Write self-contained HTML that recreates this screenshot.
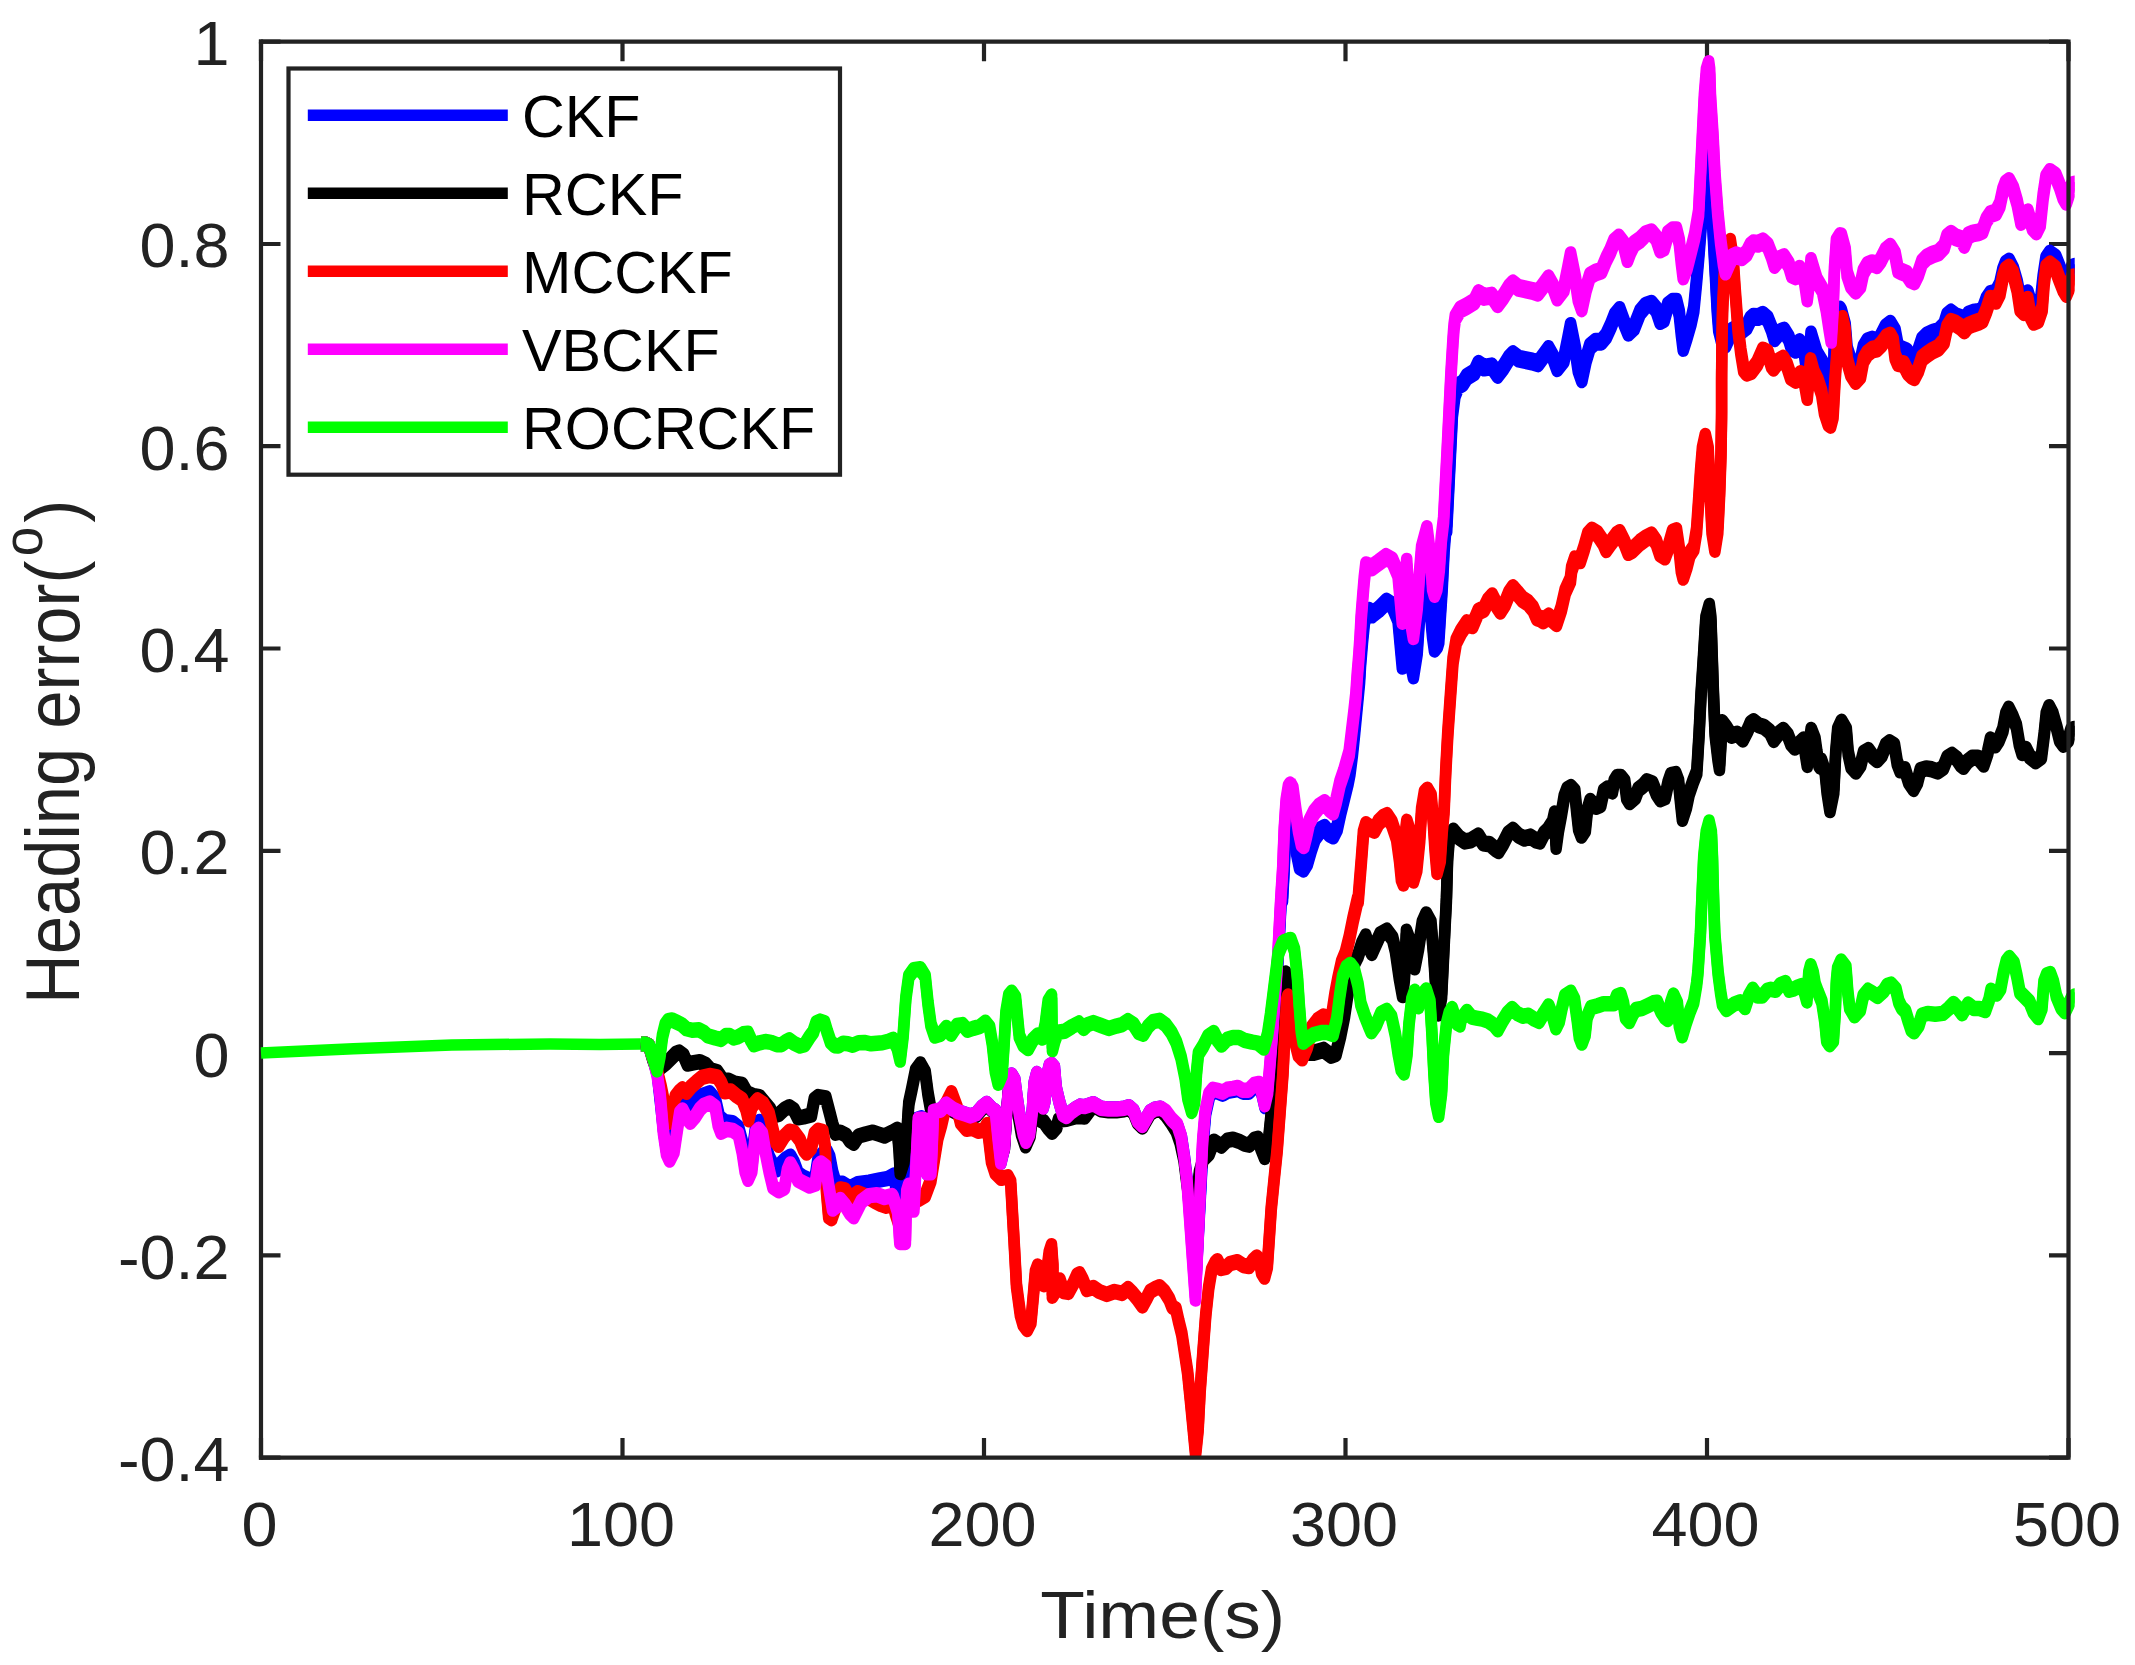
<!DOCTYPE html>
<html><head><meta charset="utf-8"><title>Heading error</title>
<style>
html,body{margin:0;padding:0;background:#fff;}
body{width:2135px;height:1665px;overflow:hidden;}
svg{display:block;}
text{font-family:"Liberation Sans",Arial,Helvetica,sans-serif;}
.tk{font-size:63.5px;fill:#222222;}
.lg{font-size:58.6px;fill:#000;}
.lb{font-size:67.2px;fill:#222222;}
.cv{fill:none;stroke-width:11.5;stroke-linejoin:round;stroke-linecap:butt;}
.ax{stroke:#222222;stroke-width:4.2;fill:none;}
</style></head><body>
<svg width="2135" height="1665" viewBox="0 0 2135 1665">
<rect x="0" y="0" width="2135" height="1665" fill="#ffffff"/>
<defs><clipPath id="cp"><rect x="250" y="30" width="1824.7" height="1427.6"/></clipPath></defs>

<line class="ax" x1="261.0" y1="39.6" x2="261.0" y2="1459.6999999999998"/>
<path class="ax" d="M261.0,1457.6 v-19.5 M261.0,41.7 v19.5 M622.5,1457.6 v-19.5 M622.5,41.7 v19.5 M984.0,1457.6 v-19.5 M984.0,41.7 v19.5 M1345.5,1457.6 v-19.5 M1345.5,41.7 v19.5 M1707.0,1457.6 v-19.5 M1707.0,41.7 v19.5 M2068.5,1457.6 v-19.5 M2068.5,41.7 v19.5 M261.0,41.7 h19.5 M2068.5,41.7 h-19.5 M261.0,244.0 h19.5 M2068.5,244.0 h-19.5 M261.0,446.2 h19.5 M2068.5,446.2 h-19.5 M261.0,648.5 h19.5 M2068.5,648.5 h-19.5 M261.0,850.8 h19.5 M2068.5,850.8 h-19.5 M261.0,1053.1 h19.5 M2068.5,1053.1 h-19.5 M261.0,1255.3 h19.5 M2068.5,1255.3 h-19.5 M261.0,1457.6 h19.5 M2068.5,1457.6 h-19.5"/>
<g clip-path="url(#cp)">
<path class="cv" stroke="#00ff00" d="M261.0,1053.0 L353.4,1048.8 L451.7,1044.9 L550.0,1044.0 L600.0,1044.4 L641.0,1043.9"/>
<g class="cv" stroke="#0000ff"><path id="a_blue" d="M641.0,1043.9 L645.2,1044.0 L649.0,1045.7 L652.9,1057.2 L657.5,1074.5 L663.4,1128.4 L666.5,1149.5 L669.6,1155.3 L674.0,1143.7 L676.9,1124.5 L679.8,1107.2 L682.6,1103.4 L687.4,1105.7 L691.3,1103.4 L696.1,1099.5 L701.9,1095.7 L709.6,1092.8 L715.3,1099.5 L719.2,1116.8 L724.9,1121.6 L732.6,1122.6 L738.4,1127.4 L742.2,1141.8 L745.1,1161.0 L748.0,1170.6 L751.8,1161.0 L753.8,1141.8 L756.1,1124.5 L759.5,1121.6 L762.4,1128.4 L765.3,1143.7 L769.1,1157.2 L773.0,1164.9 L776.8,1169.7 L781.6,1162.9 L785.5,1159.1 L790.3,1156.2 L794.1,1162.9 L798.0,1173.5 L803.7,1177.4 L810.5,1180.2 L815.3,1177.4 L818.1,1159.1 L822.9,1153.3 L826.8,1151.4 L829.7,1157.2 L832.6,1172.6 L835.4,1182.2 L842.2,1183.1 L849.9,1187.9 L857.5,1183.7 L869.1,1182.2 L878.7,1180.2 L888.3,1178.3 L894.1,1174.9 L894.4,1175.4 L897.3,1199.5 L900.2,1224.5 L904.0,1209.1 L906.9,1180.2 L908.8,1166.8 L911.1,1147.6 L913.6,1128.4 L916.5,1119.7 L921.3,1117.8 L923.6,1119.3 L925.6,1145.7 L926.9,1172.8 L930.9,1172.8 L932.2,1145.7 L933.5,1111.3 L940.8,1110.0 L946.1,1104.1 L953.0,1109.1 L958.8,1112.0 L964.6,1113.9 L970.3,1115.9 L976.1,1113.9 L981.9,1107.2 L986.7,1103.4 L992.7,1109.7 L995.4,1111.1 L998.1,1138.1 L1000.8,1162.1 L1004.4,1147.1 L1006.7,1111.1 L1009.4,1080.5 L1011.6,1075.0 L1014.8,1080.5 L1017.0,1097.6 L1019.7,1115.6 L1023.3,1133.6 L1026.0,1141.3 L1029.6,1133.6 L1032.3,1111.1 L1034.1,1084.1 L1036.8,1073.6 L1040.0,1080.5 L1041.8,1100.3 L1043.1,1107.1 L1044.9,1100.3 L1047.2,1075.0 L1049.4,1066.0 L1051.7,1064.6 L1054.4,1067.8 L1056.2,1088.6 L1059.4,1102.1 L1063.0,1114.7 L1066.6,1116.5 L1071.1,1112.0 L1075.6,1108.8 L1080.1,1106.1 L1084.6,1106.6 L1093.3,1103.8 L1101.0,1108.2 L1108.7,1109.1 L1116.4,1109.1 L1124.1,1108.2 L1128.9,1106.8 L1133.7,1111.1 L1137.5,1120.7 L1142.3,1125.5 L1146.2,1118.7 L1150.0,1112.0 L1154.8,1109.1 L1160.6,1108.2 L1166.2,1113.3 L1171.9,1121.0 L1177.7,1126.8 L1181.5,1138.3 L1184.4,1157.5 L1187.3,1182.0 L1195.7,1284.4 L1201.1,1182.0 L1203.1,1142.2 L1205.6,1113.3 L1209.4,1096.0 L1213.2,1091.2 L1218.0,1092.2 L1222.8,1094.1 L1227.7,1091.2 L1233.4,1090.3 L1238.2,1089.3 L1243.0,1092.2 L1248.8,1092.2 L1254.6,1086.4 L1259.4,1085.5 L1262.2,1094.1 L1265.1,1106.6 L1268.0,1094.1 L1269.6,1074.9 L1272.8,1036.5 L1276.3,988.4 L1278.6,950.0 L1281.1,901.9 L1282.5,900.0 L1284.2,868.3 L1285.7,829.9 L1287.7,801.0 L1289.6,789.5 L1291.5,795.3" transform="translate(0,-2.0)"/><use href="#a_blue" transform="translate(0,4.0)"/><path id="b_blue" d="M1289.6,789.5 L1291.5,795.3 L1293.8,820.2 L1296.1,849.1 L1299.6,866.4 L1303.4,868.7 L1307.3,862.5 L1311.1,849.1 L1315.0,837.5 L1320.7,829.9 L1324.6,827.9 L1329.4,833.7 L1333.2,835.6 L1337.1,827.9 L1340.9,810.6 L1344.7,795.3 L1348.0,781.8 L1349.9,772.2 L1352.4,753.0 L1354.4,733.8 L1359.6,679.9 L1360.5,664.1 L1362.5,640.1 L1364.4,620.9 L1366.8,612.7 L1369.2,610.8 L1372.1,614.6 L1378.8,609.3 L1386.5,601.7 L1392.3,605.3 L1398.0,618.7 L1402.3,665.8 L1406.7,606.7 L1410.0,658.3 L1413.4,675.4 L1417.2,651.4 L1419.1,622.6 L1421.5,593.8 L1425.9,574.3 L1429.7,603.6 L1432.6,635.3 L1434.5,648.7 L1437.4,644.9 L1438.8,640.1 L1440.3,616.1 L1442.2,587.2 L1444.1,548.8 L1446.1,524.8 L1446.3,520.0 L1446.7,529.1 L1448.6,490.6 L1450.5,452.2 L1452.4,413.8 L1454.9,394.5 L1458.2,385.9 L1463.0,383.0 L1466.8,376.9 L1474.5,372.1 L1478.4,363.8 L1484.1,367.6 L1491.8,366.3 L1497.6,374.9 L1503.4,367.2 L1509.1,358.0 L1513.0,354.2 L1518.7,358.6 L1524.5,359.9 L1532.2,361.5 L1538.0,363.4 L1543.7,355.7 L1548.5,349.0 L1553.3,357.6 L1557.2,368.2 L1563.9,359.6 L1567.8,340.3 L1570.6,325.9 L1575.4,349.9 L1578.3,369.2 L1581.8,379.2 L1586.0,359.6 L1589.9,346.5 L1595.6,341.7 L1601.4,341.7 L1606.2,335.9 L1611.0,325.3 L1614.8,315.7 L1619.6,310.0 L1624.5,323.4 L1628.3,332.7 L1634.1,327.3 L1640.0,312.3 L1645.7,305.6 L1651.5,303.7 L1656.3,309.5 L1660.1,321.0 L1664.0,319.1 L1667.8,305.6 L1672.6,301.8 L1676.5,301.8 L1679.3,313.3 L1681.3,332.5 L1683.2,347.9 L1687.0,336.0 L1690.9,322.5 L1693.8,309.1 L1696.6,280.2 L1699.1,251.4 L1701.4,222.6 L1703.8,193.8 L1705.7,164.9 L1707.6,139.9 L1709.5,164.9 L1711.1,193.8 L1712.6,222.6 L1714.1,251.4 L1715.7,280.2 L1717.2,309.1 L1718.7,328.3 L1721.6,339.8 L1725.5,344.6 L1729.3,336.4 L1732.2,330.6 L1736.0,328.7 L1741.8,330.6 L1746.6,326.8 L1750.5,319.1 L1753.3,316.8 L1758.1,317.1 L1762.9,314.8 L1767.8,319.1 L1771.6,328.7 L1774.5,338.3 L1779.3,332.5 L1784.1,330.6 L1788.9,338.3 L1791.8,347.9 L1795.6,349.8 L1799.5,342.1 L1803.7,347.9 L1807.2,371.9 L1809.5,353.7 L1811.0,334.4 L1813.9,344.1 L1816.8,353.7 L1822.5,363.3 L1826.4,382.5 L1829.3,401.7 L1831.2,413.2 L1833.1,382.5 L1834.4,344.1 L1836.4,315.2 L1840.0,309.5 L1841.3,311.8 L1845.2,326.3 L1847.1,349.5 L1850.9,361.1 L1855.7,366.6 L1860.5,361.4 L1863.4,348.0 L1867.3,341.4 L1872.1,339.6 L1876.9,341.7 L1880.7,337.0 L1885.5,327.5 L1890.3,323.8 L1895.1,331.7 L1898.0,347.1 L1901.9,349.2 L1906.7,351.2 L1910.5,357.1 L1914.4,359.1 L1918.2,351.6 L1922.0,340.1 L1926.8,335.5 L1932.6,332.8 L1938.4,331.0 L1944.1,325.4 L1947.0,315.9 L1950.9,312.5 L1955.7,316.1 L1961.4,318.2 L1964.3,324.1 L1968.2,314.6 L1973.0,312.8 L1978.7,312.0 L1982.6,310.2 L1986.4,299.8 L1990.3,294.1 L1996.0,292.4 L1999.9,284.8 L2002.8,271.4 L2005.7,263.8 L2009.1,261.6 L2013.3,269.8 L2017.2,283.4 L2021.0,302.7 L2027.8,293.3 L2032.6,308.8 L2036.4,312.8 L2040.2,305.2 L2043.1,278.4 L2046.0,259.2 L2049.9,253.6 L2055.6,257.6 L2059.5,267.3 L2063.3,279.0 L2066.2,283.8 L2069.1,275.3 L2072.0,267.7 L2074.8,266.8 L2082.0,266.8" transform="translate(0,-3.25)"/><use href="#b_blue" transform="translate(0,6.5)"/></g>
<g class="cv" stroke="#000000"><path id="a_black" d="M641.0,1043.9 L645.2,1044.0 L649.0,1045.7 L652.9,1059.2 L657.1,1069.9 L661.5,1066.8 L666.3,1063.0 L671.1,1058.2 L675.9,1053.4 L679.2,1052.1 L683.6,1055.3 L687.4,1064.0 L692.3,1063.0 L699.9,1061.7 L705.7,1064.5 L710.5,1069.7 L717.2,1071.7 L723.0,1080.3 L728.8,1080.3 L734.5,1083.2 L742.2,1084.5 L747.0,1092.8 L753.8,1095.7 L759.5,1096.6 L765.3,1103.4 L770.1,1109.1 L773.0,1115.9 L778.7,1114.5 L784.5,1109.1 L789.3,1106.8 L794.1,1110.1 L798.0,1117.8 L803.7,1116.8 L811.4,1114.9 L814.3,1099.5 L818.1,1096.6 L825.8,1098.0 L829.7,1113.0 L832.6,1124.5 L835.4,1133.2 L840.2,1132.2 L846.0,1135.1 L849.9,1140.8 L853.7,1143.3 L858.5,1136.0 L865.2,1134.1 L872.9,1132.2 L878.7,1134.1 L884.5,1136.0 L892.1,1132.2 L897.3,1129.3 L899.2,1151.4 L900.2,1172.6 L904.0,1161.0 L906.9,1132.2 L908.8,1103.4 L911.7,1089.9 L915.6,1070.7 L920.4,1064.0 L925.2,1072.6 L928.0,1093.8 L930.4,1107.2 L933.8,1111.1 L940.8,1111.6 L946.1,1105.6 L953.0,1110.7 L958.8,1113.6 L964.6,1115.5 L970.3,1117.4 L976.1,1115.5 L981.9,1108.7 L986.7,1104.9 L992.7,1110.6 L995.4,1112.4 L997.6,1138.1 L1000.4,1159.7 L1004.4,1148.0 L1006.7,1112.0 L1009.4,1081.4 L1011.6,1075.9 L1014.3,1081.4 L1016.1,1097.6 L1018.4,1115.6 L1021.5,1133.6 L1025.6,1145.8 L1030.1,1135.4 L1032.8,1112.9 L1034.6,1093.1 L1036.8,1084.1 L1039.1,1102.1 L1040.4,1120.1 L1044.0,1121.9 L1047.7,1127.3 L1052.2,1132.3 L1056.6,1127.3 L1058.5,1120.1 L1066.6,1119.2 L1075.6,1116.7 L1080.1,1116.5 L1084.6,1117.0 L1093.3,1105.3 L1101.0,1109.7 L1108.7,1110.7 L1116.4,1110.7 L1124.1,1109.7 L1128.9,1108.4 L1133.7,1112.6 L1137.5,1122.2 L1142.3,1127.0 L1146.2,1120.3 L1150.0,1113.6 L1154.8,1110.7 L1160.6,1109.7 L1165.8,1114.9 L1171.5,1122.9 L1176.3,1130.6 L1180.2,1142.2 L1184.0,1159.5 L1186.9,1182.5 L1190.4,1207.5 L1193.8,1215.2 L1196.5,1199.8 L1199.4,1172.9 L1203.2,1159.5 L1209.0,1153.7 L1213.8,1141.2 L1217.7,1143.7 L1221.5,1146.0 L1227.3,1140.2 L1233.0,1139.3 L1238.8,1141.2 L1244.6,1144.1 L1249.4,1145.1 L1254.2,1139.3 L1258.0,1138.3 L1260.9,1147.9 L1264.7,1157.5 L1267.6,1149.9 L1270.5,1121.0 L1273.4,1092.2 L1275.3,1053.8 L1277.2,1024.9 L1279.5,999.9 L1283.0,984.6 L1285.9,973.0 L1289.7,986.5 L1294.5,1015.3" transform="translate(0,-2.0)"/><use href="#a_black" transform="translate(0,4.0)"/><path id="b_black" d="M1289.7,986.5 L1294.5,1015.3 L1298.4,1040.3 L1302.2,1051.8 L1309.9,1052.8 L1313.8,1052.8 L1323.4,1049.9 L1331.1,1055.7 L1335.9,1053.8 L1340.7,1034.5 L1344.5,1015.3 L1347.4,996.1 L1350.3,980.7 L1354.1,963.4 L1358.0,955.7 L1361.8,944.2 L1365.7,936.5 L1369.5,948.0 L1371.8,952.9 L1375.3,945.2 L1380.1,934.6 L1386.8,930.8 L1392.6,938.4 L1395.4,950.0 L1399.3,976.9 L1402.6,995.1 L1404.5,976.9 L1406.4,931.7 L1408.9,938.4 L1411.4,963.4 L1414.7,967.3 L1418.5,948.0 L1422.3,923.1 L1426.2,914.4 L1431.0,923.1 L1433.9,957.7 L1436.4,996.1 L1438.7,1013.4 L1441.6,996.1 L1443.5,957.7 L1445.4,919.2 L1446.4,900.0 L1447.6,858.7 L1449.5,835.6 L1453.3,830.8 L1459.1,837.5 L1464.9,841.4 L1470.6,840.4 L1478.3,835.6 L1483.1,843.3 L1489.9,844.3 L1495.6,849.1 L1498.5,851.0 L1503.3,843.3 L1508.1,833.7 L1512.9,829.9 L1518.7,835.6 L1524.5,838.5 L1530.2,836.6 L1536.0,840.4 L1540.0,841.4 L1544.0,833.7 L1547.9,829.9 L1552.7,822.2 L1554.6,813.5 L1556.1,846.8 L1558.4,829.9 L1561.3,814.5 L1564.2,797.2 L1567.1,789.5 L1570.9,787.2 L1574.8,791.4 L1576.7,810.6 L1578.6,827.9 L1581.5,835.6 L1585.3,829.9 L1587.3,810.6 L1590.2,801.0 L1595.9,806.8 L1600.7,804.9 L1603.6,791.4 L1607.4,788.5 L1612.3,791.4 L1614.2,781.8 L1617.1,777.0 L1620.9,777.0 L1624.7,781.8 L1626.7,797.2 L1629.6,802.0 L1635.3,797.2 L1638.2,789.5 L1643.0,785.7 L1646.8,781.4 L1652.6,783.7 L1656.5,793.3 L1660.3,799.1 L1665.1,797.2 L1668.0,783.7 L1670.9,775.1 L1675.7,774.1 L1678.6,781.8 L1680.5,801.0 L1682.4,818.7 L1686.3,806.8 L1689.1,793.3 L1693.0,781.8 L1696.8,772.2 L1699.1,733.8 L1701.0,695.3 L1703.5,656.9 L1705.9,618.4 L1709.3,605.9 L1710.9,618.4 L1712.2,656.9 L1713.5,695.3 L1715.1,733.8 L1718.0,758.7 L1719.5,768.0 L1721.0,743.4 L1722.2,722.2 L1726.6,728.0 L1731.4,735.7 L1737.2,733.8 L1742.9,739.5 L1747.8,729.9 L1750.6,723.2 L1753.5,721.3 L1758.3,725.1 L1764.1,727.0 L1769.9,731.8 L1773.7,739.9 L1778.5,733.8 L1783.3,729.9 L1788.1,735.7 L1791.0,743.4 L1794.8,747.6 L1799.6,743.4 L1803.5,739.5 L1805.4,753.0 L1807.3,764.9 L1809.3,743.4 L1811.2,729.9 L1815.0,739.5 L1816.9,753.0 L1818.9,764.5 L1820.0,766.4 L1821.3,760.7 L1825.2,772.2 L1827.1,791.4 L1830.0,810.1 L1833.8,791.4 L1835.7,753.0 L1837.7,729.9 L1841.5,721.8 L1846.3,729.9 L1848.2,753.0 L1851.1,766.4 L1855.9,771.6 L1860.7,764.5 L1863.6,753.0 L1868.4,750.1 L1873.2,756.8 L1877.1,760.1 L1881.9,754.9 L1885.7,745.3 L1889.6,742.4 L1894.4,745.3 L1897.2,762.6 L1900.1,770.3 L1904.9,769.3 L1908.8,781.8 L1913.6,788.9 L1917.4,781.8 L1920.3,770.3 L1926.1,768.4 L1931.8,769.3 L1937.6,771.4 L1943.4,767.4 L1947.2,757.8 L1952.0,754.9 L1956.8,758.7 L1960.7,764.5 L1963.5,766.8 L1967.4,761.6 L1972.2,757.8 L1978.0,757.8 L1983.7,764.5 L1987.6,753.0 L1990.5,739.5 L1995.3,745.3 L1999.1,739.5 L2002.9,729.9 L2005.8,714.5 L2008.7,708.8 L2012.6,716.5 L2016.4,726.1 L2019.3,743.4 L2022.2,753.0 L2026.0,749.1 L2029.9,756.8 L2035.6,761.2 L2041.4,756.8 L2044.3,733.8 L2046.2,714.5 L2049.1,707.2 L2052.9,714.5 L2056.8,728.0 L2059.6,739.5 L2063.5,744.7 L2068.3,739.5 L2071.2,729.9 L2074.1,729.0 L2082.0,729.0" transform="translate(0,-2.5)"/><use href="#b_black" transform="translate(0,5.0)"/></g>
<g class="cv" stroke="#ff0000"><path id="a_red" d="M641.0,1043.9 L645.2,1044.0 L649.0,1045.7 L652.9,1057.2 L657.5,1072.6 L661.1,1087.2 L664.4,1103.4 L667.3,1114.9 L669.8,1122.0 L672.3,1113.0 L675.3,1096.8 L679.2,1091.8 L682.3,1089.0 L686.5,1092.2 L691.3,1086.5 L696.1,1082.2 L701.9,1077.4 L709.6,1075.5 L717.2,1076.8 L721.1,1082.6 L724.9,1091.8 L730.7,1090.9 L736.5,1095.7 L742.2,1099.5 L746.1,1109.1 L748.6,1119.7 L751.8,1106.3 L757.6,1099.9 L763.4,1103.8 L769.1,1113.9 L773.0,1130.3 L775.9,1141.8 L778.7,1145.3 L784.5,1136.0 L789.3,1131.2 L794.1,1132.2 L799.9,1139.9 L803.7,1149.5 L806.6,1153.0 L811.4,1147.6 L814.3,1134.1 L818.1,1130.3 L822.9,1131.6 L825.3,1147.6 L826.4,1189.9 L828.7,1216.8 L831.6,1218.7 L836.0,1206.2 L840.2,1188.9 L845.1,1189.9 L849.9,1198.5 L857.5,1192.7 L865.2,1195.6 L874.8,1201.4 L880.6,1204.3 L886.4,1206.2 L893.1,1203.7 L895.4,1212.9 L899.2,1224.5 L903.1,1212.9 L908.8,1203.3 L918.4,1199.5 L925.2,1195.6 L930.9,1180.2 L937.7,1138.0 L941.5,1124.5 L946.3,1103.4 L951.5,1092.8 L956.9,1107.2 L960.7,1122.6 L966.5,1129.3 L972.3,1128.4 L978.0,1131.2 L983.8,1130.3 L987.2,1124.5 L989.2,1141.8 L991.5,1161.0 L995.3,1172.6 L1001.1,1178.3 L1007.8,1176.8 L1010.7,1182.2 L1012.2,1209.1 L1014.0,1239.8 L1016.5,1285.7 L1020.4,1314.5 L1023.2,1324.1 L1027.1,1329.5 L1030.9,1322.2 L1033.4,1295.3 L1035.4,1272.3 L1037.7,1266.1 L1040.5,1279.9 L1043.8,1284.7 L1046.3,1276.1 L1049.2,1253.0 L1051.5,1245.7 L1053.0,1266.5 L1052.3,1296.3 L1055.9,1290.5 L1059.8,1279.9 L1063.6,1291.5 L1068.4,1292.4 L1073.2,1283.8 L1077.1,1275.1 L1079.6,1273.8 L1082.8,1279.9 L1086.7,1289.6 L1093.4,1287.6 L1099.2,1291.5 L1106.8,1294.4 L1114.5,1291.5 L1122.2,1293.4 L1128.0,1288.6 L1132.8,1293.4 L1137.6,1299.2 L1142.4,1305.9 L1147.2,1297.2 L1150.1,1291.5 L1154.9,1288.6 L1159.7,1286.7 L1164.5,1291.5 L1169.3,1299.2 L1172.2,1306.8 L1176.0,1309.2 L1178.9,1322.2 L1181.8,1333.8 L1184.7,1353.0 L1187.6,1372.2 L1190.5,1401.0 L1193.3,1429.9 L1195.6,1453.9 L1198.1,1429.9 L1200.1,1391.4 L1202.9,1353.0 L1205.8,1314.5 L1208.7,1287.6 L1211.6,1270.3 L1215.4,1262.6 L1217.4,1260.7 L1221.2,1268.4 L1226.0,1267.4 L1229.9,1263.6 L1237.5,1261.7 L1243.3,1265.5 L1249.1,1266.5 L1252.9,1260.7 L1256.8,1256.9 L1259.6,1260.7 L1261.6,1272.3 L1264.5,1277.1 L1267.3,1266.5 L1269.3,1237.7 L1271.2,1208.8 L1274.1,1180.0 L1277.2,1149.9 L1280.1,1111.4 L1283.0,1073.0 L1284.9,1034.5 L1286.8,999.9 L1288.0,996.1 L1290.7,1015.3" transform="translate(0,-2.0)"/><use href="#a_red" transform="translate(0,4.0)"/><path id="b_red" d="M1288.0,996.1 L1290.7,1015.3 L1294.5,1038.4 L1298.4,1053.8 L1302.2,1057.6 L1307.0,1046.1 L1311.8,1028.8 L1317.6,1021.1 L1323.4,1017.2 L1329.1,1020.1 L1332.0,1015.3 L1334.9,996.1 L1337.8,980.7 L1341.6,963.4 L1345.5,953.8 L1349.3,938.4 L1353.2,919.2 L1357.6,900.0 L1358.2,900.0 L1359.2,887.5 L1361.5,858.7 L1363.4,833.7 L1365.9,825.1 L1370.7,828.3 L1374.5,829.9 L1378.4,822.6 L1383.2,817.7 L1387.0,816.0 L1391.8,823.1 L1396.6,837.5 L1399.5,858.7 L1401.4,877.9 L1403.4,882.7 L1405.3,858.7 L1405.9,829.9 L1406.8,822.6 L1409.1,829.9 L1411.4,849.1 L1413.4,879.8 L1416.8,868.3 L1419.7,839.5 L1421.6,810.6 L1424.5,793.3 L1427.4,790.5 L1431.2,797.2 L1433.2,820.2 L1435.1,849.1 L1437.0,871.2 L1440.3,858.7 L1442.2,829.9 L1444.1,810.6 L1445.7,772.2 L1447.8,733.8 L1450.5,695.3 L1453.0,660.7 L1456.2,641.5 L1461.0,631.9 L1466.8,623.2 L1472.6,625.2 L1478.3,611.7 L1484.1,608.8 L1487.9,601.1 L1492.2,596.3 L1496.6,605.0 L1500.4,610.8 L1505.2,603.1 L1509.1,593.5 L1512.9,588.1 L1517.7,593.5 L1522.5,599.2 L1528.3,603.1 L1533.1,608.8 L1536.9,617.5 L1540.0,618.4 L1543.1,620.4 L1548.8,616.5 L1556.5,623.2 L1561.3,608.8 L1565.2,591.5 L1570.4,580.0 L1571.6,569.4 L1574.9,559.4 L1580.2,560.2 L1584.1,548.3 L1587.9,534.8 L1591.8,530.6 L1597.5,533.9 L1603.3,542.5 L1606.2,549.3 L1611.0,542.5 L1616.8,534.8 L1619.6,532.9 L1624.5,542.5 L1628.3,552.1 L1632.1,550.2 L1640.0,542.5 L1645.7,538.3 L1651.5,535.4 L1656.3,542.2 L1660.1,553.7 L1664.9,556.6 L1668.8,546.0 L1672.6,532.6 L1676.5,531.0 L1679.3,549.9 L1681.3,569.1 L1683.2,576.8 L1687.0,565.2 L1689.9,553.7 L1693.8,547.9 L1696.6,530.6 L1698.6,501.8 L1700.5,473.0 L1702.4,449.9 L1705.3,436.8 L1708.2,449.9 L1710.1,492.2 L1712.0,530.6 L1714.9,548.9 L1717.8,530.6 L1719.7,492.2 L1721.0,453.8 L1721.6,415.3 L1721.6,376.9 L1722.0,338.4 L1722.6,309.6 L1724.5,270.6 L1727.4,251.4 L1730.3,241.8 L1733.2,261.0 L1735.1,289.8 L1738.0,328.3 L1740.8,351.3 L1743.7,369.2 L1746.6,372.7 L1751.4,371.1 L1757.2,363.4 L1762.9,350.4 L1767.8,352.9 L1771.6,365.3 L1773.5,367.7 L1778.3,361.5 L1783.1,358.6 L1787.0,365.3 L1790.8,376.9 L1795.6,379.8 L1800.4,374.0 L1804.3,380.7 L1807.2,397.1 L1809.1,376.9 L1810.6,361.1 L1813.9,373.0 L1817.7,380.7 L1821.6,392.3 L1824.5,411.5 L1828.3,423.0 L1830.6,424.9 L1833.1,415.3 L1835.0,380.7 L1836.9,353.8 L1838.9,334.6 L1840.0,327.5 L1842.3,318.9 L1845.2,331.4 L1847.1,360.2 L1850.9,373.7 L1855.7,381.0 L1860.5,375.6 L1863.4,360.2 L1867.3,353.5 L1872.1,349.7 L1876.9,348.7 L1881.7,343.9 L1886.5,337.2 L1890.3,335.6 L1893.2,341.0 L1895.1,356.4 L1898.0,363.1 L1903.8,364.1 L1907.6,371.8 L1911.5,375.6 L1914.4,377.2 L1918.2,369.9 L1922.0,358.3 L1926.8,354.5 L1932.6,350.6 L1938.4,347.8 L1944.1,341.0 L1947.0,327.6 L1950.9,321.8 L1955.7,323.7 L1961.4,327.6 L1964.3,330.5 L1968.2,325.7 L1973.0,323.7 L1978.7,321.8 L1982.6,319.9 L1986.4,310.3 L1990.3,298.7 L1996.0,300.7 L1999.9,293.0 L2002.8,277.6 L2005.7,269.9 L2009.1,267.6 L2013.3,273.8 L2017.2,289.1 L2020.1,308.4 L2023.9,312.2 L2027.8,299.7 L2030.6,316.0 L2033.5,321.8 L2038.3,319.9 L2042.2,308.4 L2044.1,283.4 L2046.0,268.0 L2049.9,264.5 L2055.6,269.0 L2059.5,279.5 L2063.3,289.1 L2066.2,293.9 L2069.1,287.2 L2072.0,277.6 L2074.8,277.2 L2082.0,277.2" transform="translate(0,-3.25)"/><use href="#b_red" transform="translate(0,6.5)"/></g>
<g class="cv" stroke="#ff00ff"><path id="a_magenta" d="M641.0,1043.9 L645.2,1044.0 L649.0,1045.7 L652.9,1057.2 L657.1,1074.5 L660.0,1093.8 L663.4,1132.2 L666.5,1153.3 L669.6,1160.1 L674.0,1151.4 L676.9,1132.2 L679.8,1113.0 L682.6,1110.1 L686.5,1117.8 L690.3,1122.2 L695.1,1116.8 L699.9,1109.1 L703.8,1105.3 L709.6,1103.0 L715.3,1107.2 L718.2,1124.5 L721.1,1132.2 L726.8,1129.3 L732.6,1130.3 L738.4,1134.1 L742.2,1151.4 L745.1,1170.6 L748.0,1179.3 L751.8,1170.6 L753.8,1151.4 L755.7,1132.2 L758.6,1129.3 L762.4,1134.1 L765.3,1151.4 L769.1,1170.6 L773.0,1187.0 L778.7,1190.8 L784.5,1187.9 L787.4,1170.6 L790.3,1163.9 L794.1,1170.6 L798.0,1180.2 L803.7,1183.1 L809.5,1186.0 L815.3,1184.1 L818.1,1165.8 L821.0,1162.9 L825.8,1166.8 L828.7,1186.0 L832.6,1209.1 L836.4,1206.2 L840.2,1199.5 L845.1,1205.2 L849.9,1212.9 L853.7,1216.8 L857.5,1209.1 L861.4,1201.4 L869.1,1195.6 L876.8,1194.7 L884.5,1197.5 L892.1,1195.6 L893.2,1197.2 L897.8,1211.7 L899.8,1242.4 L905.4,1242.4 L906.7,1191.9 L908.7,1185.3 L911.0,1210.0 L913.9,1210.0 L916.3,1158.9 L918.3,1119.3 L923.6,1119.3 L925.6,1145.7 L926.9,1172.8 L930.9,1172.8 L932.2,1145.7 L933.5,1111.3 L940.8,1110.0 L946.1,1104.1 L953.0,1109.1 L958.8,1112.0 L964.6,1113.9 L970.3,1115.9 L976.1,1113.9 L981.9,1107.2 L986.7,1103.4 L992.7,1109.7 L995.4,1111.1 L998.1,1138.1 L1000.8,1162.1 L1004.4,1147.1 L1006.7,1111.1 L1009.4,1080.5 L1011.6,1075.0 L1014.8,1080.5 L1017.0,1097.6 L1019.7,1115.6 L1023.3,1133.6 L1026.0,1141.3 L1029.6,1133.6 L1032.3,1111.1 L1034.1,1084.1 L1036.8,1073.6 L1040.0,1080.5 L1041.8,1100.3 L1043.1,1107.1 L1044.9,1100.3 L1047.2,1075.0 L1049.4,1066.0 L1051.7,1064.6 L1054.4,1067.8 L1056.2,1088.6 L1059.4,1102.1 L1063.0,1114.7 L1066.6,1116.5 L1071.1,1112.0 L1075.6,1108.8 L1080.1,1106.1 L1084.6,1106.6 L1093.3,1103.8 L1101.0,1108.2 L1108.7,1109.1 L1116.4,1109.1 L1124.1,1108.2 L1128.9,1106.8 L1133.7,1111.1 L1137.5,1120.7 L1142.3,1125.5 L1146.2,1118.7 L1150.0,1112.0 L1154.8,1109.1 L1160.6,1108.2 L1165.8,1111.4 L1171.5,1119.1 L1177.3,1124.9 L1181.1,1136.4 L1184.0,1155.6 L1186.9,1180.0 L1195.4,1299.0 L1200.7,1180.0 L1202.7,1140.2 L1205.2,1111.4 L1209.0,1094.1 L1212.9,1089.3 L1217.7,1090.3 L1222.5,1092.2 L1227.3,1089.3 L1233.0,1088.4 L1237.8,1087.4 L1242.6,1090.3 L1248.4,1090.3 L1254.2,1084.5 L1259.0,1083.5 L1261.9,1092.2 L1264.7,1104.7 L1267.6,1092.2 L1269.2,1073.0 L1272.4,1034.5 L1275.9,986.5 L1278.2,948.0 L1280.7,900.0 L1282.7,868.3 L1284.2,829.9 L1286.1,801.0 L1288.4,786.6 L1290.0,784.1 L1292.9,789.5" transform="translate(0,-2.0)"/><use href="#a_magenta" transform="translate(0,4.0)"/><path id="b_magenta" d="M1290.0,784.1 L1292.9,789.5 L1295.7,810.6 L1298.6,829.9 L1301.5,843.3 L1303.8,845.2 L1306.3,835.6 L1309.2,822.2 L1314.0,812.6 L1318.8,806.8 L1324.6,802.9 L1329.4,808.7 L1333.2,811.6 L1336.1,801.0 L1339.9,783.7 L1343.8,772.2 L1349.2,753.0 L1351.5,733.8 L1353.8,714.5 L1355.9,695.3 L1357.2,676.1 L1358.8,656.9 L1360.1,637.7 L1361.1,618.4 L1362.6,599.2 L1364.2,580.0 L1365.9,565.2 L1371.7,567.5 L1378.4,562.7 L1386.1,556.9 L1392.3,560.4 L1398.0,573.9 L1402.3,620.9 L1406.7,561.7 L1410.0,616.1 L1413.4,636.2 L1417.2,606.5 L1419.2,577.6 L1421.6,548.8 L1426.9,529.1 L1430.7,558.4 L1432.6,587.3 L1434.5,594.0 L1436.9,587.3 L1439.3,568.0 L1441.3,539.2 L1443.6,519.9 L1445.1,490.6 L1447.1,452.2 L1449.0,413.8 L1450.9,375.3 L1453.0,340.7 L1454.0,327.3 L1455.3,317.7 L1460.1,309.6 L1466.8,306.1 L1474.5,301.3 L1478.4,293.1 L1484.1,296.9 L1491.8,295.6 L1497.6,304.2 L1503.4,296.5 L1509.1,287.3 L1513.0,283.4 L1518.7,287.9 L1524.5,289.2 L1532.2,290.8 L1538.0,292.7 L1543.7,285.0 L1548.5,278.3 L1553.3,286.9 L1557.2,297.5 L1563.9,288.8 L1567.8,269.6 L1570.6,255.2 L1575.4,279.2 L1578.3,298.4 L1581.8,308.4 L1586.0,288.8 L1589.9,275.8 L1595.6,272.5 L1601.5,270.6 L1606.3,259.1 L1610.2,251.4 L1614.0,241.8 L1618.8,237.6 L1623.6,243.7 L1627.4,259.1 L1630.3,251.4 L1634.2,243.7 L1639.9,239.9 L1645.7,234.1 L1651.5,232.2 L1656.3,238.0 L1660.1,249.5 L1664.0,247.6 L1667.8,234.1 L1672.6,230.3 L1676.5,230.3 L1679.3,241.8 L1681.3,261.0 L1683.2,276.4 L1687.0,266.8 L1690.9,251.4 L1694.7,236.0 L1698.6,213.0 L1700.5,174.5 L1702.4,136.1 L1704.3,97.7 L1706.4,71.5 L1708.7,64.0 L1709.7,71.5 L1710.5,97.7 L1713.0,136.1 L1714.9,174.5 L1717.8,213.0 L1720.7,241.8 L1723.5,262.9 L1725.5,271.6 L1729.3,262.9 L1732.2,257.2 L1736.0,255.3 L1741.8,257.2 L1746.6,253.3 L1750.5,245.7 L1753.3,243.3 L1758.1,243.7 L1762.9,241.4 L1767.8,245.7 L1771.6,255.3 L1774.5,264.9 L1779.3,259.1 L1784.1,257.2 L1788.9,264.9 L1791.8,274.5 L1795.6,276.4 L1799.5,268.7 L1803.7,274.5 L1807.2,298.5 L1809.5,280.2 L1811.0,261.0 L1813.9,270.6 L1816.8,280.2 L1822.5,289.9 L1826.4,309.1 L1829.3,328.3 L1831.2,339.8 L1833.1,309.1 L1834.4,270.6 L1836.4,241.8 L1840.0,236.0 L1841.3,236.3 L1845.2,250.7 L1847.1,273.8 L1850.9,285.3 L1855.7,290.7 L1860.5,285.3 L1863.4,271.8 L1867.3,265.1 L1872.1,263.2 L1876.9,265.1 L1880.7,260.3 L1885.5,250.7 L1890.3,246.8 L1895.1,254.5 L1898.0,269.9 L1901.9,271.8 L1906.7,273.8 L1910.5,279.5 L1914.4,281.4 L1918.2,273.8 L1922.0,262.2 L1926.8,257.4 L1932.6,254.5 L1938.4,252.6 L1944.1,246.8 L1947.0,237.2 L1950.9,233.8 L1955.7,237.2 L1961.4,239.2 L1964.3,244.9 L1968.2,235.3 L1973.0,233.4 L1978.7,232.4 L1982.6,230.5 L1986.4,219.9 L1990.3,214.2 L1996.0,212.3 L1999.9,204.6 L2002.8,191.1 L2005.7,183.4 L2009.1,181.1 L2013.3,189.2 L2017.2,202.6 L2021.0,221.9 L2027.8,212.3 L2032.6,227.6 L2036.4,231.5 L2040.2,223.8 L2043.1,196.9 L2046.0,177.7 L2049.9,171.9 L2055.6,175.7 L2059.5,185.3 L2063.3,196.9 L2066.2,201.7 L2069.1,193.0 L2072.0,185.3 L2074.8,184.4 L2082.0,184.4" transform="translate(0,-3.25)"/><use href="#b_magenta" transform="translate(0,6.5)"/></g>
<g class="cv" stroke="#00ff00"><path id="a_green" d="M641.0,1043.9 L645.2,1044.0 L649.0,1045.7 L652.9,1057.2 L657.1,1069.9 L660.0,1055.3 L662.5,1036.1 L665.3,1024.6 L668.2,1020.7 L672.1,1020.0 L676.9,1022.3 L681.7,1024.6 L686.5,1028.8 L692.3,1030.3 L699.0,1029.8 L703.8,1032.3 L707.6,1035.7 L715.3,1038.0 L721.1,1039.4 L725.9,1035.5 L729.7,1035.5 L733.6,1038.0 L738.4,1036.7 L743.2,1033.8 L748.0,1033.2 L750.9,1039.9 L753.8,1044.7 L759.5,1042.8 L765.3,1041.5 L771.1,1042.4 L776.8,1044.7 L781.6,1044.7 L785.5,1041.9 L789.3,1039.9 L794.1,1043.4 L799.9,1046.1 L804.7,1044.7 L809.5,1037.1 L813.3,1031.9 L816.2,1023.0 L820.1,1021.1 L824.5,1022.6 L827.4,1032.3 L830.6,1041.9 L834.5,1045.7 L838.3,1046.1 L843.1,1043.2 L847.9,1043.8 L852.7,1045.3 L858.5,1042.8 L864.3,1042.4 L871.0,1043.8 L876.8,1043.2 L882.5,1042.8 L888.3,1041.3 L893.1,1039.4 L893.5,1039.9 L897.3,1047.6 L900.2,1060.1 L903.1,1036.1 L905.9,997.7 L908.8,976.5 L913.6,969.8 L920.4,968.8 L925.2,976.5 L928.0,1003.4 L930.9,1024.6 L934.8,1036.1 L940.5,1034.2 L946.3,1027.4 L951.1,1034.2 L956.9,1025.5 L962.6,1024.6 L967.4,1030.3 L973.2,1028.4 L979.9,1026.5 L985.3,1022.3 L989.6,1027.4 L992.4,1043.8 L995.3,1070.7 L998.2,1083.2 L1002.0,1074.5 L1004.0,1045.7 L1005.9,1013.0 L1008.8,995.7 L1011.7,992.3 L1015.5,997.7 L1017.4,1016.9 L1019.3,1036.1 L1023.2,1044.7 L1028.0,1048.6 L1032.8,1039.9 L1037.6,1035.1 L1042.4,1038.0 L1045.3,1024.6 L1048.2,1001.5 L1051.6,996.1 L1052.4,1049.6 L1054.9,1039.9 L1057.8,1032.3 L1064.5,1031.3 L1072.2,1026.5 L1078.9,1023.0 L1083.7,1028.4 L1087.6,1024.6 L1093.3,1022.6 L1101.0,1025.5 L1108.7,1028.4 L1116.4,1026.1 L1122.2,1024.6 L1127.9,1020.7 L1133.7,1024.6 L1138.5,1032.3 L1143.3,1034.2 L1148.1,1026.5 L1152.9,1021.7 L1159.6,1020.3 L1160.0,1020.7 L1165.8,1024.9 L1171.5,1032.6 L1176.3,1042.2 L1181.1,1057.6 L1185.0,1076.8 L1187.9,1098.0 L1191.7,1111.4 L1194.6,1101.8 L1196.5,1073.0 L1198.4,1053.8 L1203.2,1046.1 L1208.0,1036.5 L1213.8,1032.6 L1217.7,1040.3 L1221.5,1045.1 L1227.3,1039.3 L1233.0,1037.4 L1238.8,1037.4 L1244.6,1040.3 L1252.3,1042.2 L1258.0,1043.2 L1263.8,1048.0 L1267.6,1034.5 L1270.5,1015.3 L1273.4,992.3 L1275.3,976.9 L1278.2,953.8 L1283.0,942.3 L1290.7,939.4" transform="translate(0,-2.0)"/><use href="#a_green" transform="translate(0,4.0)"/><path id="b_green" d="M1283.0,942.3 L1290.7,939.4 L1294.5,950.0 L1297.4,976.9 L1299.3,1005.7 L1301.3,1030.7 L1303.2,1042.2 L1308.0,1038.4 L1313.8,1034.5 L1321.4,1032.6 L1327.2,1032.6 L1333.0,1034.5 L1336.8,1019.2 L1339.7,996.1 L1342.6,976.9 L1346.4,967.3 L1350.3,964.4 L1354.1,969.2 L1358.0,984.6 L1360.8,1003.8 L1364.7,1015.3 L1368.5,1024.9 L1371.4,1031.7 L1376.2,1024.9 L1381.0,1013.4 L1386.8,1010.5 L1391.6,1017.2 L1395.4,1034.5 L1398.3,1053.8 L1401.2,1069.1 L1404.1,1073.0 L1407.0,1053.8 L1408.9,1024.9 L1411.8,999.9 L1414.7,991.3 L1418.5,1006.7 L1421.4,996.1 L1426.2,989.9 L1430.0,1001.9 L1432.0,1034.5 L1433.9,1073.0 L1435.8,1101.8 L1438.7,1115.3 L1441.6,1092.2 L1443.5,1053.8 L1446.4,1024.9 L1449.3,1013.4 L1452.1,1008.6 L1456.9,1023.0 L1460.0,1024.9 L1461.1,1019.1 L1466.9,1011.4 L1471.7,1017.2 L1476.5,1018.1 L1482.3,1019.1 L1488.0,1021.0 L1493.8,1024.9 L1497.7,1029.7 L1502.5,1021.0 L1507.3,1013.3 L1512.1,1008.5 L1516.9,1013.3 L1522.6,1016.2 L1528.4,1015.3 L1534.2,1019.1 L1539.0,1021.4 L1543.8,1013.3 L1548.6,1006.0 L1552.4,1015.3 L1555.9,1027.8 L1559.2,1021.0 L1562.0,1007.6 L1564.9,996.0 L1570.7,992.2 L1574.5,999.9 L1577.4,1021.0 L1579.3,1036.4 L1581.8,1043.1 L1585.1,1034.5 L1587.0,1017.2 L1590.9,1007.6 L1597.6,1005.7 L1603.4,1003.7 L1609.1,1003.7 L1613.9,1003.7 L1616.8,996.0 L1620.7,994.5 L1623.5,1003.7 L1625.5,1017.2 L1629.3,1021.6 L1633.2,1013.3 L1636.0,1009.5 L1641.8,1008.5 L1647.6,1005.7 L1653.3,1002.8 L1657.2,1002.2 L1661.0,1011.4 L1664.9,1017.2 L1667.8,1019.5 L1670.6,1003.7 L1673.5,995.1 L1677.4,1003.7 L1679.3,1024.9 L1682.2,1035.8 L1686.0,1022.9 L1689.9,1011.4 L1693.7,1001.8 L1696.6,984.5 L1697.9,973.0 L1700.4,934.5 L1702.0,896.1 L1703.7,857.7 L1706.2,832.7 L1709.1,822.1 L1711.4,832.7 L1712.5,857.7 L1713.5,896.1 L1714.8,934.5 L1718.1,973.0 L1720.6,992.2 L1722.5,1003.7 L1726.4,1009.5 L1734.1,1004.1 L1740.0,1001.8 L1745.0,1007.6 L1748.8,996.1 L1752.7,989.3 L1757.5,996.1 L1762.3,996.1 L1767.1,990.3 L1770.9,989.3 L1775.7,990.3 L1780.5,984.5 L1785.4,982.6 L1789.2,990.3 L1793.0,989.3 L1796.9,987.4 L1801.7,985.5 L1804.6,992.2 L1806.9,1000.9 L1808.8,973.0 L1810.7,965.7 L1813.2,973.0 L1815.1,984.5 L1818.0,992.2 L1821.9,1001.8 L1824.8,1021.0 L1826.7,1040.3 L1829.6,1044.7 L1833.4,1040.3 L1835.3,1011.4 L1836.3,982.6 L1837.6,969.1 L1841.1,961.1 L1845.9,967.2 L1847.8,992.2 L1849.7,1007.6 L1854.5,1015.7 L1860.3,1009.5 L1863.2,996.1 L1868.0,990.3 L1872.8,993.2 L1877.6,996.4 L1883.4,991.3 L1887.2,985.5 L1891.1,984.1 L1895.9,989.3 L1898.8,1001.8 L1901.6,1007.6 L1905.5,1011.4 L1908.4,1021.0 L1911.3,1029.7 L1914.1,1031.8 L1918.9,1024.9 L1921.8,1015.3 L1927.6,1013.4 L1935.3,1014.3 L1943.0,1013.4 L1948.7,1008.5 L1953.5,1003.4 L1958.3,1008.5 L1962.2,1013.7 L1968.0,1004.1 L1973.7,1008.5 L1979.5,1008.5 L1985.3,1010.5 L1989.1,999.9 L1991.0,990.3 L1996.8,994.1 L2000.6,988.4 L2003.5,973.0 L2006.4,961.5 L2009.3,957.6 L2014.1,963.4 L2017.0,976.8 L2019.9,992.2 L2023.7,996.1 L2029.5,1001.8 L2033.3,1011.4 L2038.1,1017.6 L2042.0,1007.6 L2043.9,982.6 L2046.8,974.9 L2050.2,973.6 L2053.5,982.6 L2056.4,996.1 L2061.2,1007.6 L2065.0,1011.8 L2068.9,1003.7 L2071.7,998.0 L2074.6,996.1 L2082.0,996.1" transform="translate(0,-2.0)"/><use href="#b_green" transform="translate(0,4.0)"/></g>
</g>
<path class="ax" d="M261.0,41.7 L2068.5,41.7 L2068.5,1457.6 L261.0,1457.6" stroke-linecap="square"/>
<text class="tk" x="259.5" y="1546" text-anchor="middle" transform="translate(259.5,0) scale(1.02,1) translate(-259.5,0)">0</text>
<text class="tk" x="621.0" y="1546" text-anchor="middle" transform="translate(621.0,0) scale(1.02,1) translate(-621.0,0)">100</text>
<text class="tk" x="982.5" y="1546" text-anchor="middle" transform="translate(982.5,0) scale(1.02,1) translate(-982.5,0)">200</text>
<text class="tk" x="1344.0" y="1546" text-anchor="middle" transform="translate(1344.0,0) scale(1.02,1) translate(-1344.0,0)">300</text>
<text class="tk" x="1705.5" y="1546" text-anchor="middle" transform="translate(1705.5,0) scale(1.02,1) translate(-1705.5,0)">400</text>
<text class="tk" x="2067.0" y="1546" text-anchor="middle" transform="translate(2067.0,0) scale(1.02,1) translate(-2067.0,0)">500</text>
<text class="tk" x="229.5" y="65.2" text-anchor="end" transform="translate(229.5,0) scale(1.02,1) translate(-229.5,0)">1</text>
<text class="tk" x="229.5" y="267.5" text-anchor="end" transform="translate(229.5,0) scale(1.02,1) translate(-229.5,0)">0.8</text>
<text class="tk" x="229.5" y="469.7" text-anchor="end" transform="translate(229.5,0) scale(1.02,1) translate(-229.5,0)">0.6</text>
<text class="tk" x="229.5" y="672.0" text-anchor="end" transform="translate(229.5,0) scale(1.02,1) translate(-229.5,0)">0.4</text>
<text class="tk" x="229.5" y="874.3" text-anchor="end" transform="translate(229.5,0) scale(1.02,1) translate(-229.5,0)">0.2</text>
<text class="tk" x="229.5" y="1076.6" text-anchor="end" transform="translate(229.5,0) scale(1.02,1) translate(-229.5,0)">0</text>
<text class="tk" x="229.5" y="1278.8" text-anchor="end" transform="translate(229.5,0) scale(1.02,1) translate(-229.5,0)">-0.2</text>
<text class="tk" x="229.5" y="1481.1" text-anchor="end" transform="translate(229.5,0) scale(1.02,1) translate(-229.5,0)">-0.4</text>
<text class="lb" x="1040.2" y="1638" transform="translate(1040.2,0) scale(1.088,1) translate(-1040.2,0)">Time(s)</text>
<g transform="translate(78.8,1004) rotate(-90) scale(0.9157,1)"><text class="lb" style="font-size:75.1px" x="0" y="0">Heading error(</text></g>
<g transform="translate(42.4,541.6) rotate(-90) scale(0.97,1)"><text class="lb" style="font-size:54.7px" x="0" y="0" text-anchor="middle">o</text></g>
<g transform="translate(78.8,511.2) rotate(-90) scale(0.9157,1)"><text class="lb" style="font-size:75.1px" x="0" y="0" text-anchor="middle">)</text></g>
<rect x="288.5" y="68.5" width="551.5" height="406.2" fill="#ffffff" stroke="#222222" stroke-width="4.2"/>
<line x1="307.8" y1="115.3" x2="507.8" y2="115.3" stroke="#0000ff" stroke-width="11.5"/>
<text class="lg" x="522" y="137.1" transform="translate(522,0) scale(1.012,1) translate(-522,0)">CKF</text>
<line x1="307.8" y1="193.3" x2="507.8" y2="193.3" stroke="#000000" stroke-width="11.5"/>
<text class="lg" x="522" y="215.1" transform="translate(522,0) scale(1.012,1) translate(-522,0)">RCKF</text>
<line x1="307.8" y1="271.3" x2="507.8" y2="271.3" stroke="#ff0000" stroke-width="11.5"/>
<text class="lg" x="522" y="293.1" transform="translate(522,0) scale(1.012,1) translate(-522,0)">MCCKF</text>
<line x1="307.8" y1="349.3" x2="507.8" y2="349.3" stroke="#ff00ff" stroke-width="11.5"/>
<text class="lg" x="522" y="371.1" transform="translate(522,0) scale(1.012,1) translate(-522,0)">VBCKF</text>
<line x1="307.8" y1="427.3" x2="507.8" y2="427.3" stroke="#00ff00" stroke-width="11.5"/>
<text class="lg" x="522" y="449.1" transform="translate(522,0) scale(1.012,1) translate(-522,0)">ROCRCKF</text>
</svg></body></html>
